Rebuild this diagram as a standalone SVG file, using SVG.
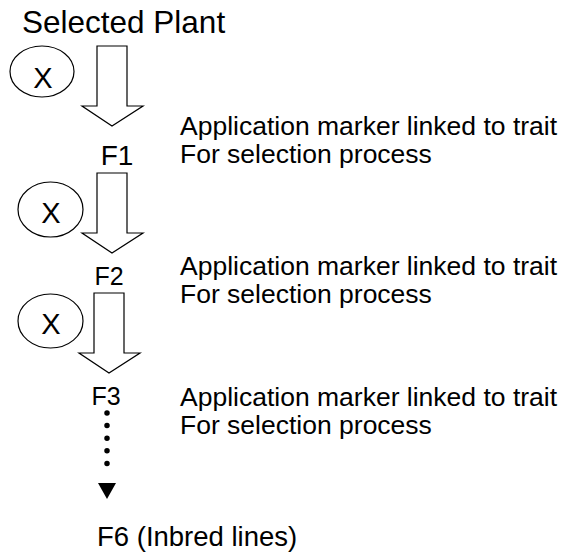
<svg xmlns="http://www.w3.org/2000/svg" width="565" height="554" viewBox="0 0 565 554">
<style>
text{font-family:"Liberation Sans",Arial,sans-serif;fill:#000}
.big{font-size:31.5px}
.lbl{font-size:26.5px}
.x{font-size:29px;text-anchor:middle}
.f{text-anchor:middle}
.shape{fill:#fff;stroke:#000;stroke-width:1.2}
</style>
<defs>
<marker id="tri" markerUnits="userSpaceOnUse" markerWidth="16" markerHeight="18" refX="16" refY="9" orient="auto" viewBox="0 0 16 18">
<path d="M0,0 L16,9 L0,18 Z" fill="#000"/>
</marker>
</defs>
<rect width="565" height="554" fill="#fff"/>
<g id="title"><text class="big" x="22" y="33">Selected Plant</text></g>
<g id="cross1"><ellipse class="shape" cx="42" cy="71.5" rx="32" ry="25.5"/><text class="x" x="43" y="88">X</text></g>
<g id="cross2"><ellipse class="shape" cx="50.5" cy="209.5" rx="32.5" ry="27.5"/><text class="x" x="51" y="223">X</text></g>
<g id="cross3"><ellipse class="shape" cx="50.5" cy="321" rx="32.5" ry="27"/><text class="x" x="51" y="334">X</text></g>
<g id="F1"><text class="f" x="117" y="165" font-size="28">F1</text></g>
<g id="F2"><text class="f" x="109" y="285" font-size="25">F2</text></g>
<g id="F3"><text class="f" x="106" y="405" font-size="25">F3</text></g>
<g id="F6"><text x="97" y="546" font-size="27.5">F6 (Inbred lines)</text></g>
<g id="note1"><text class="lbl" x="180" y="135">Application marker linked to trait</text><text class="lbl" x="180" y="163">For selection process</text></g>
<g id="note2"><text class="lbl" x="180" y="275">Application marker linked to trait</text><text class="lbl" x="180" y="303">For selection process</text></g>
<g id="note3"><text class="lbl" x="180" y="406">Application marker linked to trait</text><text class="lbl" x="180" y="434">For selection process</text></g>
<g id="connectors">
<path class="shape" d="M97,46 H127 V106 H143 L112,126 L82,106 H97 Z"/>
<path class="shape" d="M97,173 H127 V233 H143 L112,253 L82,233 H97 Z"/>
<path class="shape" d="M94,293 H124 V353 H140 L109,373 L79,353 H94 Z"/>
<line x1="107" y1="413" x2="107" y2="476" stroke="#000" stroke-width="5.5" stroke-linecap="round" stroke-dasharray="0 12.6"/>
<line x1="107" y1="483" x2="107" y2="499" stroke="none" marker-end="url(#tri)"/>
</g>
</svg>
